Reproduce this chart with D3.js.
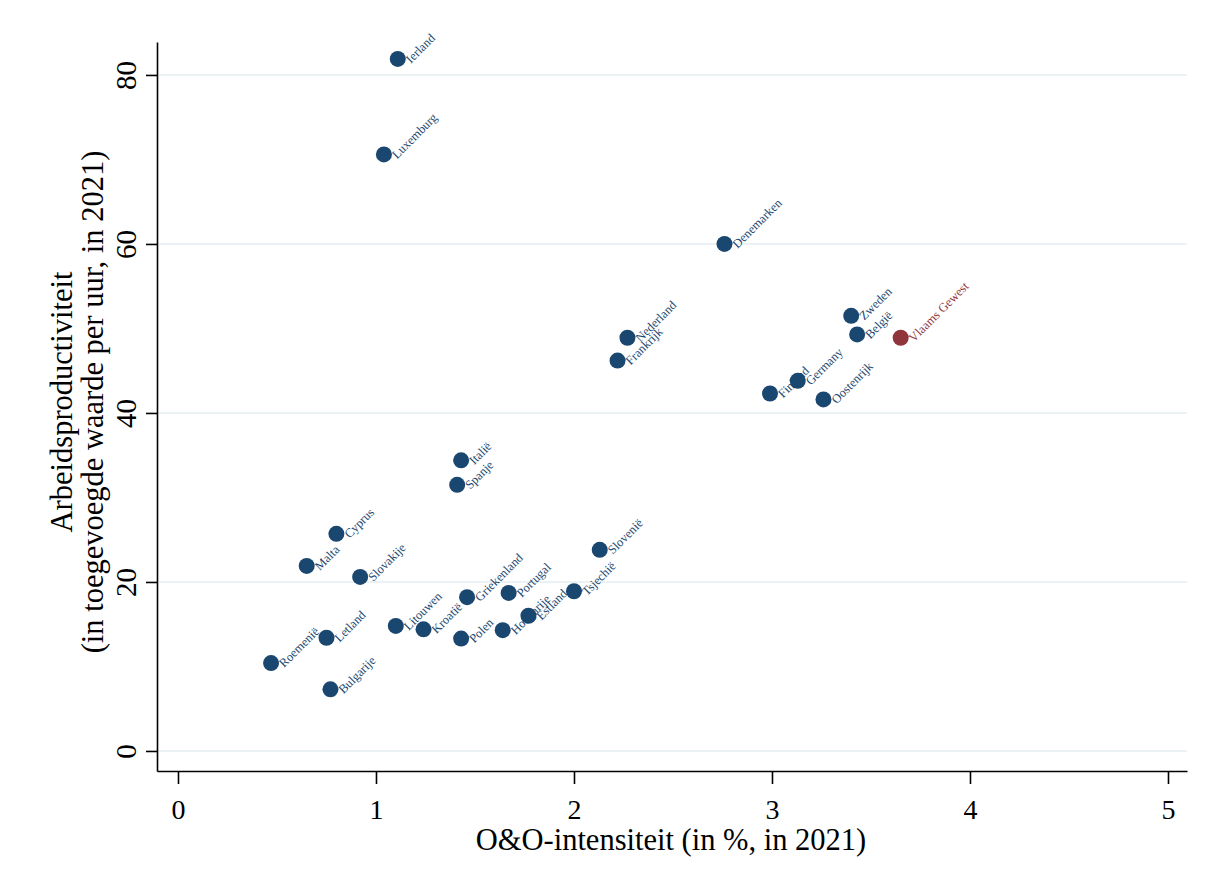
<!DOCTYPE html>
<html>
<head>
<meta charset="utf-8">
<script src="https://cdn.jsdelivr.net/npm/d3@7"></script>
<style>
  body { margin: 0; background: #fff; }
  text { font-family: 'Liberation Serif', 'Times New Roman', serif; }
  .grid line { stroke: #eaf2f3; stroke-width: 2; }
</style>
</head>
<body>
<div id="wrapper"></div>
<script>
const countries = ['Ierland', 'Luxemburg', 'Denemarken', 'Zweden', 'België', 'Vlaams Gewest',
  'Nederland', 'Frankrijk', 'Finland', 'Germany', 'Oostenrijk', 'Italië', 'Spanje',
  'Cyprus', 'Malta', 'Slovakije', 'Slovenië', 'Tsjechië', 'Portugal', 'Griekenland',
  'Estland', 'Hongarije', 'Litouwen', 'Kroatië', 'Polen', 'Letland', 'Roemenië', 'Bulgarije'];
const rdIntensity = [1.11, 1.04, 2.76, 3.40, 3.43, 3.65,
  2.27, 2.22, 2.99, 3.13, 3.26, 1.43, 1.41,
  0.80, 0.65, 0.92, 2.13, 2.00, 1.67, 1.46,
  1.77, 1.64, 1.10, 1.24, 1.43, 0.75, 0.47, 0.77];
const productivity = [81.9, 70.6, 60.0, 51.5, 49.3, 48.9,
  48.9, 46.2, 42.3, 43.8, 41.6, 34.4, 31.5,
  25.7, 21.9, 20.6, 23.8, 18.9, 18.7, 18.2,
  16.0, 14.3, 14.8, 14.4, 13.3, 13.4, 10.4, 7.3];
const highlighted = ['Vlaams Gewest'];
const xTicks = [0, 1, 2, 3, 4, 5];
const yTicks = [0, 20, 40, 60, 80];

function drawScatter() {
  // 1. Access data
  const dataset = countries.map((c, i) => ({ name: c, x: rdIntensity[i], y: productivity[i] }));
  const xAccessor = (d) => d.x;
  const yAccessor = (d) => d.y;

  // 2. Dimensions
  const dimensions = { width: 1214, height: 883, left: 157, right: 1187, top: 42, bottom: 771 };

  // 3. Canvas
  const svg = d3.select('#wrapper').append('svg')
    .attr('width', dimensions.width)
    .attr('height', dimensions.height);

  // 4. Scales
  const xScale = d3.scaleLinear().domain([-0.106, 5.096]).range([dimensions.left, dimensions.right]);
  const yScale = d3.scaleLinear().domain([-2.37, 83.9]).range([dimensions.bottom, dimensions.top]);

  // gridlines
  svg.append('g').attr('class', 'grid')
    .selectAll('line').data(yTicks).join('line')
    .attr('x1', dimensions.left + 2).attr('x2', dimensions.right)
    .attr('y1', (d) => yScale(d)).attr('y2', (d) => yScale(d));

  // 5. Points
  const colorOf = (d) => highlighted.includes(d.name) ? '#90353b' : '#1a476f';

  svg.append('g').selectAll('circle').data(dataset).join('circle')
    .attr('cx', (d) => xScale(xAccessor(d)))
    .attr('cy', (d) => yScale(yAccessor(d)))
    .attr('r', 8)
    .attr('fill', colorOf);

  svg.append('g').selectAll('text').data(dataset).join('text')
    .attr('transform', (d) => `translate(${xScale(xAccessor(d)) + 13}, ${yScale(yAccessor(d)) + 5}) rotate(-45)`)
    .attr('font-size', 12.5)
    .attr('fill', colorOf)
    .text((d) => d.name);

  // 6. Axes
  const xAxis = svg.append('g')
    .attr('transform', `translate(0, ${dimensions.bottom})`)
    .call(d3.axisBottom(xScale).tickValues(xTicks).tickSize(13).tickSizeOuter(0).tickFormat(d3.format('d')));
  xAxis.selectAll('text').attr('font-size', 28).attr('fill', '#000').attr('y', 48).attr('dy', null);
  xAxis.select('.domain').attr('stroke', '#000').attr('stroke-width', 1.6);
  xAxis.selectAll('.tick line').attr('stroke', '#000').attr('stroke-width', 1.6);

  const yAxis = svg.append('g')
    .attr('transform', `translate(${dimensions.left}, 0)`)
    .call(d3.axisLeft(yScale).tickValues(yTicks).tickSize(11).tickSizeOuter(0));
  yAxis.select('.domain').attr('stroke', '#000').attr('stroke-width', 1.6);
  yAxis.selectAll('.tick line').attr('stroke', '#000').attr('stroke-width', 1.6);
  yAxis.selectAll('text')
    .attr('font-size', 29).attr('fill', '#000')
    .attr('x', null).attr('dy', null)
    .attr('text-anchor', 'middle')
    .attr('transform', 'translate(-21, 0) rotate(-90)');

  svg.append('text')
    .attr('x', 671)
    .attr('y', 850)
    .attr('text-anchor', 'middle')
    .attr('font-size', 30.5)
    .text('O&O-intensiteit (in %, in 2021)');

  const yTitle = svg.append('text')
    .attr('transform', `translate(0, 402) rotate(-90)`)
    .attr('text-anchor', 'middle')
    .attr('font-size', 30.5);
  yTitle.append('tspan').attr('x', 0).attr('y', 72).text('Arbeidsproductiviteit');
  yTitle.append('tspan').attr('x', 0).attr('y', 103).text('(in toegevoegde waarde per uur, in 2021)');
}
drawScatter();
</script>
</body>
</html>
